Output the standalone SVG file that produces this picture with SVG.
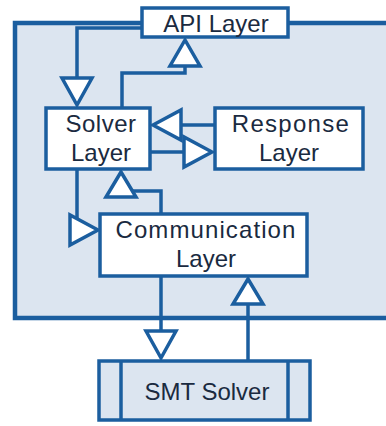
<svg xmlns="http://www.w3.org/2000/svg" width="386" height="426" viewBox="0 0 386 426">
  <style>
    .box { fill: #ffffff; stroke: #1b5e9f; stroke-width: 3.5; }
    .cont { fill: #dce5f0; stroke: #1b5e9f; stroke-width: 4.5; }
    .smt { fill: #dce5f0; stroke: #1b5e9f; stroke-width: 3.5; }
    .line { fill: none; stroke: #1b5e9f; stroke-width: 3.5; }
    .head { fill: #ffffff; stroke: #1b5e9f; stroke-width: 3.5; stroke-linejoin: miter; }
    text { font-family: "Liberation Sans", Arial, sans-serif; font-size: 24px; fill: #1a2a40; text-anchor: middle; }
  </style>
  <rect id="container" class="cont" x="15" y="23" width="400" height="295"/>
  <g id="connectors">
    <path class="line" d="M142,28 H77 V80"/>
    <polygon class="head" points="77,105 62,78 92,78"/>
    <path class="line" d="M122,108 V73 H185 V66"/>
    <polygon class="head" points="185,40 170,66 200,66"/>
    <path class="line" d="M215,125 H181"/>
    <polygon class="head" points="153,125 181,110 181,140"/>
    <path class="line" d="M150,152 H184"/>
    <polygon class="head" points="212,152 184,137 184,167"/>
    <path class="line" d="M77,169 V230 H70"/>
    <polygon class="head" points="98,230 70,215 70,245"/>
    <path class="line" d="M161,214 V191 H121 V197"/>
    <polygon class="head" points="121,172 106,197 136,197"/>
    <path class="line" d="M161,276 V331"/>
    <polygon class="head" points="161,358 146,331 176,331"/>
    <path class="line" d="M248,361 V304"/>
    <polygon class="head" points="248,279 233,304 263,304"/>
  </g>
  <g id="api">
    <rect class="box" x="142" y="8" width="146" height="29"/>
    <text x="216" y="32">API Layer</text>
  </g>
  <g id="solver">
    <rect class="box" x="46" y="108" width="104" height="61"/>
    <text x="101" y="132" letter-spacing="0.5">Solver</text>
    <text x="101" y="161">Layer</text>
  </g>
  <g id="response">
    <rect class="box" x="215" y="108" width="148" height="61"/>
    <text x="291" y="132" letter-spacing="1.3">Response</text>
    <text x="289" y="161">Layer</text>
  </g>
  <g id="communication">
    <rect class="box" x="100" y="214" width="207" height="62"/>
    <text x="206" y="238" letter-spacing="1.1">Communication</text>
    <text x="206" y="267">Layer</text>
  </g>
  <g id="smt">
    <rect class="smt" x="99" y="361" width="211" height="59"/>
    <line class="line" x1="121" y1="361" x2="121" y2="420"/>
    <line class="line" x1="288" y1="361" x2="288" y2="420"/>
    <text x="207" y="400">SMT Solver</text>
  </g>
</svg>
